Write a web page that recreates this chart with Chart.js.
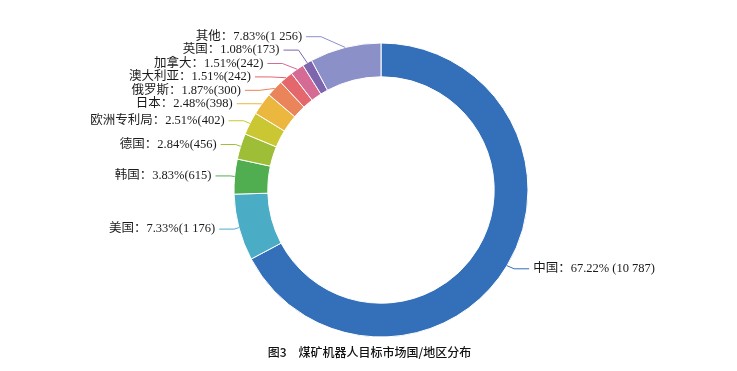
<!DOCTYPE html>
<html>
<head>
<meta charset="utf-8">
<style>
  html, body { margin: 0; padding: 0; background: #fff; }
  #wrap { width: 737px; height: 371px; position: relative; }
</style>
<script src="https://cdn.jsdelivr.net/npm/chart.js@4.4.1/dist/chart.umd.min.js"></script>
</head>
<body>
<div id="wrap"><canvas id="c" width="737" height="371"></canvas></div>
<script>
const categories = ['中国', '美国', '韩国', '德国', '欧洲专利局', '日本', '俄罗斯', '澳大利亚', '加拿大', '英国', '其他'];
const counts = [10787, 1176, 615, 456, 402, 398, 300, 242, 242, 173, 1256];
const percents = ['67.22', '7.33', '3.83', '2.84', '2.51', '2.48', '1.87', '1.51', '1.51', '1.08', '7.83'];
const countTexts = ['10 787', '1 176', '615', '456', '402', '398', '300', '242', '242', '173', '1 256'];
const colors = ['#3470B9', '#4BACC6', '#50AE50', '#9EBE38', '#CAC732', '#ECB73E', '#EA845A', '#E4676D', '#D56A95', '#7D66AE', '#8B90C9'];
const titleText = '图3　煤矿机器人目标市场国/地区分布';

const labelTexts = categories.map((c, i) => c + '：' + percents[i] + '%' + (i === 0 ? ' ' : '') + '(' + countTexts[i] + ')');

const LABEL_FONT = '12.5px "Liberation Serif", "Noto Sans CJK SC", serif';
const LINE_H = 13.4;

function layoutSide(items, h) {
  const z = items.map((it, i) => it.y - i * h);
  const blocks = [];
  z.forEach((v, i) => {
    blocks.push({ sum: v, n: 1, start: i });
    while (blocks.length > 1) {
      const b = blocks[blocks.length - 1], a = blocks[blocks.length - 2];
      if (a.sum / a.n > b.sum / b.n) {
        a.sum += b.sum; a.n += b.n; blocks.pop();
      } else break;
    }
  });
  blocks.forEach(b => {
    const m = b.sum / b.n;
    for (let k = 0; k < b.n; k++) {
      const i = b.start + k;
      items[i].ly = m + i * h;
    }
  });
}

const labelPlugin = {
  id: 'pieLabels',
  afterDatasetsDraw(chart) {
    const ctx = chart.ctx;
    const meta = chart.getDatasetMeta(0);
    const items = [];
    meta.data.forEach((arc, i) => {
      const p = arc.getProps(['x', 'y', 'startAngle', 'endAngle', 'outerRadius'], true);
      const mid = (p.startAngle + p.endAngle) / 2;
      const R = p.outerRadius;
      items.push({
        i, cx: p.x, cy: p.y, R, rA: R + 4, rB: R + 20,
        x0: p.x + Math.cos(mid) * R,
        y0: p.y + Math.sin(mid) * R,
        y: p.y + Math.sin(mid) * (R + 6),
        left: Math.cos(mid) < 0
      });
    });
    const leftItems = items.filter(it => it.left).sort((a, b) => a.y - b.y);
    const rightItems = items.filter(it => !it.left).sort((a, b) => a.y - b.y);
    layoutSide(leftItems, LINE_H);
    layoutSide(rightItems, LINE_H);

    ctx.save();
    ctx.font = LABEL_FONT;
    ctx.textBaseline = 'middle';
    items.forEach(it => {
      const dir = it.left ? -1 : 1;
      const dy = Math.abs(it.ly - it.cy);
      const dx = it.rA * Math.sqrt(Math.max(0, 1 - (dy * dy) / (it.rB * it.rB)));
      const x1 = it.cx + dir * dx;
      const x2 = x1 + dir * 15;
      ctx.strokeStyle = colors[it.i];
      ctx.lineWidth = 1;
      ctx.beginPath();
      ctx.moveTo(it.x0, it.y0);
      ctx.lineTo(x1, it.ly);
      ctx.lineTo(x2, it.ly);
      ctx.stroke();
      ctx.fillStyle = '#1a1a1a';
      ctx.textAlign = it.left ? 'right' : 'left';
      ctx.fillText(labelTexts[it.i], x2 + dir * 4, it.ly);
    });
    ctx.font = '500 12px "Noto Sans CJK SC", "Liberation Serif", sans-serif';
    ctx.textAlign = 'center';
    ctx.fillStyle = '#111';
    ctx.fillText(titleText, 369.5, 352);
    ctx.restore();
  }
};

new Chart(document.getElementById('c'), {
  type: 'doughnut',
  data: {
    labels: categories,
    datasets: [{
      data: counts,
      backgroundColor: colors,
      borderColor: '#ffffff',
      borderWidth: 1
    }]
  },
  options: {
    responsive: false,
    animation: false,
    cutout: '77%',
    layout: { padding: { top: 42.5, bottom: 33.5, left: 25, right: 0 } },
    plugins: {
      legend: { display: false },
      tooltip: { enabled: false },
      title: { display: false }
    }
  },
  plugins: [labelPlugin]
});
</script>
</body>
</html>
